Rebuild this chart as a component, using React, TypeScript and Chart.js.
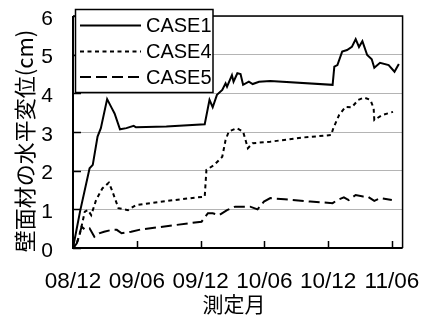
import React, { useEffect, useRef } from "react";
import { Chart, registerables } from "chart.js";

Chart.register(...registerables);

// months counted from 2008/12
const xTickValues = [0, 6, 12, 18, 24, 30];
const xTickLabels = ["08/12", "09/06", "09/12", "10/06", "10/12", "11/06"];
const yTickValues = [0, 1, 2, 3, 4, 5, 6];

const seriesNames = ["CASE1", "CASE4", "CASE5"];

const case1Months = [0, 0.66, 1.56, 1.86, 2.31, 2.62, 3.21, 3.66, 3.91, 4.42, 5.02, 5.71, 5.92, 8.78, 12.39, 12.84, 13.14, 13.54, 14.04, 14.35, 14.49, 14.95, 15.1, 15.46, 15.76, 16.0, 16.54, 16.9, 17.5, 18.56, 24.42, 24.58, 24.87, 25.32, 25.78, 26.23, 26.59, 26.9, 27.22, 27.67, 28.1, 28.34, 28.88, 29.69, 30.24, 30.65];
const case1Values = [0, 0.94, 2.06, 2.15, 2.88, 3.1, 3.85, 3.61, 3.48, 3.07, 3.1, 3.16, 3.12, 3.14, 3.2, 3.83, 3.64, 3.96, 4.09, 4.26, 4.17, 4.47, 4.3, 4.52, 4.5, 4.22, 4.3, 4.24, 4.3, 4.32, 4.22, 4.69, 4.73, 5.08, 5.12, 5.2, 5.4, 5.2, 5.35, 4.99, 4.88, 4.66, 4.79, 4.73, 4.56, 4.76];

const case4Months = [0, 0.36, 0.66, 1.11, 1.41, 1.71, 2.17, 2.76, 3.37, 3.66, 4.27, 5.17, 5.92, 7.27, 9.53, 12.39, 12.55, 13.29, 14.04, 14.35, 14.65, 15.4, 16.0, 16.45, 16.9, 18.56, 21.72, 24.28, 24.49, 25.03, 25.63, 26.23, 26.83, 27.37, 27.98, 28.28, 28.34, 29.09, 30.1];
const case4Values = [0, 0.12, 0.38, 0.94, 0.98, 0.85, 1.24, 1.54, 1.69, 1.5, 1.03, 0.98, 1.11, 1.16, 1.24, 1.33, 2.02, 2.15, 2.36, 2.79, 3.01, 3.1, 3.01, 2.58, 2.71, 2.75, 2.86, 2.92, 3.1, 3.44, 3.65, 3.64, 3.83, 3.89, 3.83, 3.61, 3.31, 3.44, 3.52];

const case5Months = [0, 0.36, 0.81, 1.11, 1.56, 2.01, 2.46, 2.92, 3.66, 4.12, 4.57, 5.47, 6.37, 9.53, 12.09, 12.69, 13.14, 13.75, 14.49, 15.25, 16.0, 16.66, 17.36, 17.96, 18.56, 19.91, 22.32, 24.42, 24.87, 25.48, 25.93, 26.59, 27.28, 27.73, 28.34, 28.93, 29.99];
const case5Values = [0, 0.12, 0.55, 0.48, 0.51, 0.29, 0.38, 0.42, 0.47, 0.47, 0.38, 0.42, 0.48, 0.59, 0.68, 0.9, 0.9, 0.85, 0.98, 1.07, 1.07, 1.07, 1.0, 1.2, 1.29, 1.26, 1.2, 1.16, 1.24, 1.31, 1.24, 1.37, 1.33, 1.33, 1.22, 1.29, 1.24];

const yTitle = "壁面材の水平変位(cm)";
const xTitle = "測定月";

const LATIN = "'Liberation Sans', Arial, 'Noto Sans CJK JP', sans-serif";
const CJK = "'Noto Sans CJK JP', 'Liberation Sans', sans-serif";

const dashes: number[][] = [[], [4, 3.5], [11, 5]];

const toPoints = (xs: number[], ys: number[]) => xs.map((x, i) => ({ x, y: ys[i] }));

const decorPlugin = {
  id: "decor",
  afterDraw(chart: any) {
    const ctx = chart.ctx as CanvasRenderingContext2D;
    const area = chart.chartArea;
    const xs = chart.scales.x;
    const ys = chart.scales.y;
    ctx.save();
    ctx.strokeStyle = "#000";
    ctx.setLineDash([]);
    // inward ticks
    ctx.lineWidth = 1.5;
    ctx.beginPath();
    yTickValues.forEach((v) => {
      const py = Math.round(ys.getPixelForValue(v)) + 0.5;
      ctx.moveTo(area.left, py);
      ctx.lineTo(area.left + 8, py);
    });
    xTickValues.forEach((v) => {
      const px = Math.round(xs.getPixelForValue(v)) + 0.5;
      ctx.moveTo(px, area.bottom);
      ctx.lineTo(px, area.bottom - 7);
    });
    ctx.stroke();
    // frame
    ctx.lineWidth = 1.5;
    ctx.beginPath();
    ctx.moveTo(area.left, area.top);
    ctx.lineTo(area.right, area.top);
    ctx.lineTo(area.right, area.bottom);
    ctx.stroke();
    ctx.lineWidth = 2;
    ctx.beginPath();
    ctx.moveTo(area.left, area.top);
    ctx.lineTo(area.left, area.bottom);
    ctx.lineTo(area.right, area.bottom);
    ctx.stroke();

    // legend
    const lx = 75.5, ly = 9.5, lw = 137.5, lh = 83;
    ctx.fillStyle = "#fff";
    ctx.fillRect(lx, ly, lw, lh);
    ctx.lineWidth = 1.5;
    ctx.strokeRect(lx, ly, lw, lh);
    const rows = [25.5, 51.5, 77];
    ctx.font = "20px " + LATIN;
    ctx.textBaseline = "middle";
    ctx.textAlign = "left";
    ctx.fillStyle = "#000";
    seriesNames.forEach((name, i) => {
      ctx.lineWidth = 2;
      ctx.setLineDash(dashes[i]);
      ctx.beginPath();
      ctx.moveTo(80, rows[i]);
      ctx.lineTo(141, rows[i]);
      ctx.stroke();
      ctx.setLineDash([]);
      ctx.fillText(name, 146, rows[i] + 1);
    });

    // axis titles
    ctx.font = "22px " + CJK;
    ctx.textAlign = "center";
    ctx.textBaseline = "middle";
    ctx.save();
    ctx.translate(25, 141);
    ctx.rotate(-Math.PI / 2);
    ctx.fillText(yTitle, 0, 0);
    ctx.restore();
    ctx.font = "21px " + CJK;
    ctx.fillText(xTitle, 234, 304);
    ctx.restore();
  },
};

export default function App() {
  const ref = useRef<HTMLCanvasElement | null>(null);
  useEffect(() => {
    document.body.style.margin = "0";
    const canvas = ref.current;
    if (!canvas) return;
    const series = [
      toPoints(case1Months, case1Values),
      toPoints(case4Months, case4Values),
      toPoints(case5Months, case5Values),
    ];
    const chart = new Chart(canvas, {
      type: "line",
      data: {
        datasets: series.map((pts, i) => ({
          label: seriesNames[i],
          data: pts,
          borderColor: "#000",
          backgroundColor: "#000",
          borderWidth: 2,
          borderDash: dashes[i],
          pointRadius: 0,
          tension: 0,
          fill: false,
        })),
      },
      options: {
        animation: false,
        responsive: true,
        maintainAspectRatio: false,
        layout: { padding: { left: 0, right: 23, top: 16, bottom: 0 } },
        plugins: { legend: { display: false }, tooltip: { enabled: false }, title: { display: false } },
        scales: {
          x: {
            type: "linear",
            min: 0,
            max: 31,
            afterBuildTicks: (scale: any) => {
              scale.ticks = xTickValues.map((v) => ({ value: v }));
            },
            afterFit: (scale: any) => {
              scale.height = 70;
            },
            ticks: {
              autoSkip: false,
              maxRotation: 0,
              minRotation: 0,
              padding: 20,
              color: "#000",
              font: { size: 22.5, family: LATIN },
              callback: (v: any) => {
                const idx = xTickValues.indexOf(Number(v));
                return idx >= 0 ? xTickLabels[idx] : "";
              },
            },
            grid: { display: false, drawTicks: false },
            border: { display: false },
          },
          y: {
            type: "linear",
            min: 0,
            max: 6,
            afterBuildTicks: (scale: any) => {
              scale.ticks = yTickValues.map((v) => ({ value: v }));
            },
            afterFit: (scale: any) => {
              scale.width = 73;
              scale.paddingTop = 0;
              scale.paddingBottom = 0;
            },
            ticks: {
              padding: 20,
              labelOffset: 3,
              color: "#000",
              font: { size: 21, family: LATIN },
            },
            grid: { color: "#b4b4b4", lineWidth: 1, drawTicks: false },
            border: { display: false },
          },
        },
      },
      plugins: [decorPlugin],
    });
    return () => chart.destroy();
  }, []);
  return (
    <div style={{ position: "relative", width: 440, height: 318, background: "#fff" }}>
      <canvas ref={ref} />
    </div>
  );
}
